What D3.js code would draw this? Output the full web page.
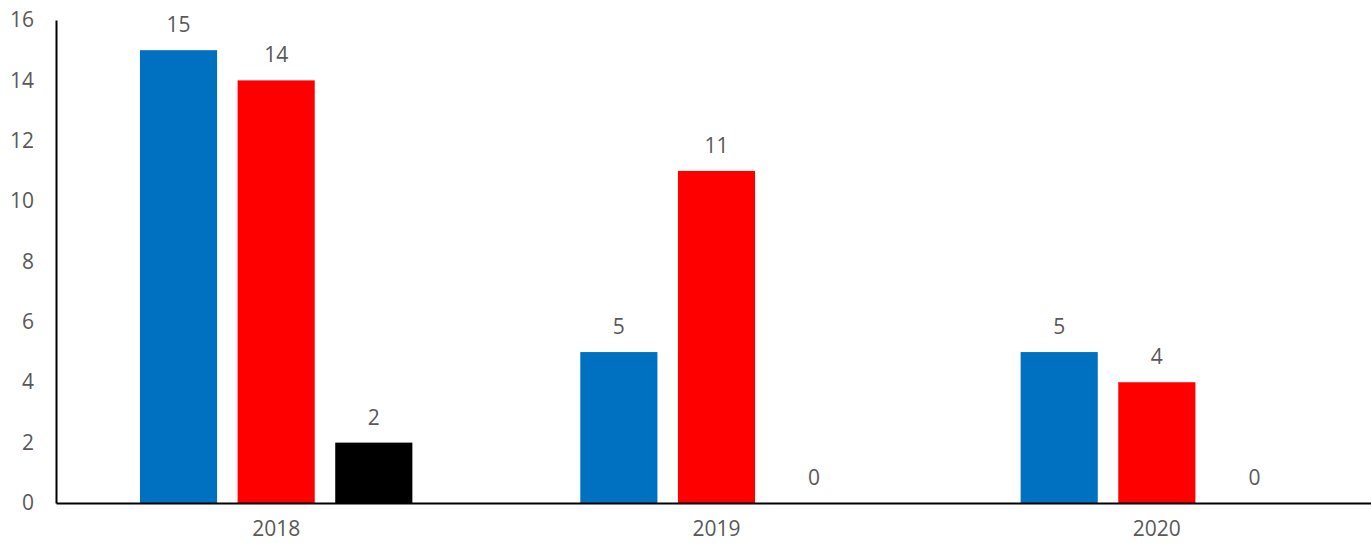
<!DOCTYPE html>
<html><head><meta charset="utf-8">
<script src="https://cdn.jsdelivr.net/npm/d3@7"></script>
<style>body{margin:0;background:#fff;}svg{display:block;}</style>
</head><body>
<svg id="c" width="1371" height="543"></svg>
<script>
const categories = ["2018", "2019", "2020"];
const seriesNames = ["A", "B", "C"];
const seriesA = [15, 5, 5];
const seriesB = [14, 11, 4];
const seriesC = [2, 0, 0];
const colors = ["#0070C0", "#FF0000", "#000000"];
const yTicks = [0, 2, 4, 6, 8, 10, 12, 14, 16];

(function() {
const seriesVals = [seriesA, seriesB, seriesC];
const svg = d3.select("#c");
const mLeft = 56, mRight = 1377, mTop = 20, mBottom = 503;
const font = "'Open Sans', 'Liberation Sans', sans-serif";
const txt = "#595959";
const fs = 21;

const y = d3.scaleLinear().domain([0, 16]).range([mBottom, mTop]);
const x0 = d3.scaleBand().domain(categories).range([mLeft, mRight]).padding(0);
const x1 = d3.scaleBand().domain(seriesNames).range([0, x0.bandwidth()]).paddingInner(0.21).paddingOuter(0.86);

const ya = svg.append("g").attr("transform", `translate(${mLeft},0)`)
  .call(d3.axisLeft(y).tickValues(yTicks).tickSize(0).tickPadding(22).tickFormat(d3.format("d")));
ya.select(".domain").attr("stroke", "#000").attr("stroke-width", 2);
ya.selectAll("text").attr("font-family", font).attr("font-size", fs).attr("fill", txt);

const groups = svg.append("g").selectAll("g").data(categories).join("g")
  .attr("transform", d => `translate(${x0(d)},0)`);

groups.each(function(cat, ci) {
  const g = d3.select(this);
  seriesNames.forEach((s, si) => {
    const v = seriesVals[si][ci];
    if (v > 0) {
      g.append("rect").attr("x", x1(s)).attr("width", x1.bandwidth())
        .attr("y", y(v)).attr("height", y(0) - y(v)).attr("fill", colors[si]);
    }
    g.append("text").attr("x", x1(s) + x1.bandwidth() / 2).attr("y", y(v) - 18)
      .attr("text-anchor", "middle").attr("font-family", font).attr("font-size", fs)
      .attr("fill", txt).text(v);
  });
});

const xa = svg.append("g").attr("transform", `translate(0,${mBottom})`)
  .call(d3.axisBottom(x0).tickSize(0));
xa.select(".domain").attr("stroke", "#000").attr("stroke-width", 2);
xa.selectAll("text").attr("y", 33).attr("dy", "0").attr("font-family", font).attr("font-size", fs).attr("fill", txt);
})();
</script>
</body></html>
